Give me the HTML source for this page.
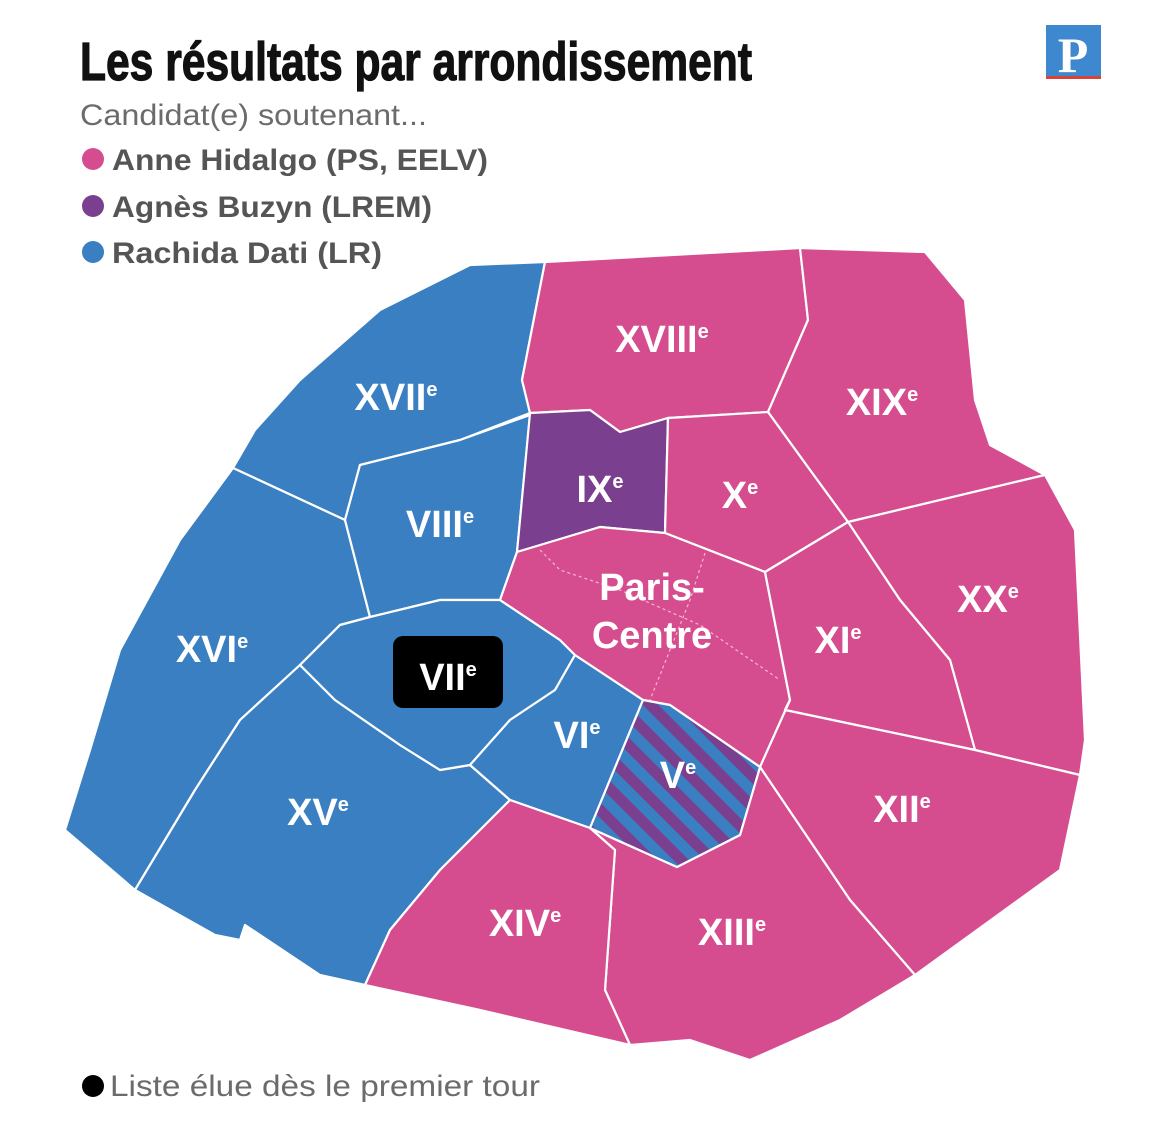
<!DOCTYPE html>
<html><head><meta charset="utf-8"><style>
html,body{margin:0;padding:0;background:#fff;}
svg{display:block;}
</style></head><body>
<svg width="1170" height="1128" viewBox="0 0 1170 1128" xmlns="http://www.w3.org/2000/svg">
<defs>
<pattern id="hatch" patternUnits="userSpaceOnUse" width="22" height="22" patternTransform="rotate(-45)">
<rect width="22" height="22" fill="#3a7fc1"/>
<rect width="11" height="22" fill="#7b3f8f"/>
</pattern>
</defs>
<rect width="1170" height="1128" fill="#fff"/>
<text x="80" y="80" font-family="Liberation Sans Narrow, Liberation Sans, sans-serif" font-weight="bold" font-size="54" fill="#111" stroke="#111" stroke-width="1.2" textLength="672" lengthAdjust="spacingAndGlyphs">Les résultats par arrondissement</text>
<text x="80" y="125" font-family="Liberation Sans, sans-serif" font-size="30" fill="#6b6b6b" textLength="347" lengthAdjust="spacingAndGlyphs">Candidat(e) soutenant...</text>
<circle cx="93" cy="159" r="11" fill="#d54d8e"/>
<text x="112" y="170" font-family="Liberation Sans, sans-serif" font-weight="bold" font-size="30" fill="#555" textLength="376" lengthAdjust="spacingAndGlyphs">Anne Hidalgo (PS, EELV)</text>
<circle cx="93" cy="206" r="11" fill="#7b3f8f"/>
<text x="112" y="217" font-family="Liberation Sans, sans-serif" font-weight="bold" font-size="30" fill="#555" textLength="320" lengthAdjust="spacingAndGlyphs">Agnès Buzyn (LREM)</text>
<circle cx="93" cy="252" r="11" fill="#3a7fc1"/>
<text x="112" y="263" font-family="Liberation Sans, sans-serif" font-weight="bold" font-size="30" fill="#555" textLength="270" lengthAdjust="spacingAndGlyphs">Rachida Dati (LR)</text>
<rect x="1046" y="25" width="55" height="51" fill="#3d88cf"/>
<rect x="1046" y="76" width="55" height="3" fill="#d9443a"/>
<text x="1073" y="72" text-anchor="middle" font-family="Liberation Serif, serif" font-weight="bold" font-size="50" fill="#fff">P</text>

<g stroke="#fff" stroke-width="2.2" stroke-linejoin="round">
<polygon fill="#3a7fc1" points="545,262 522,380 530,413 460,440 360,465 345,520 233,468 255,430 300,380 380,310 470,265"/>
<polygon fill="#3a7fc1" points="233,468 345,520 370,617 340,625 300,665 240,720 195,790 135,890 65,830 90,750 120,650 180,540"/>
<polygon fill="#3a7fc1" points="300,665 335,700 400,745 440,770 470,765 510,800 440,870 390,930 365,985 320,975 245,925 240,940 215,935 135,890 195,790 240,720"/>
<polygon fill="#3a7fc1" points="345,520 360,465 460,440 530,415 517,552 500,600 440,600 370,617"/>
<polygon fill="#3a7fc1" points="300,665 340,625 370,617 440,600 500,600 560,640 575,655 555,690 510,720 470,765 440,770 400,745 335,700"/>
<polygon fill="#3a7fc1" points="575,655 643,700 590,828 510,800 470,765 510,720 555,690"/>
<polygon fill="#d54d8e" points="545,262 800,248 808,320 768,412 668,418 620,432 590,410 530,413 522,380"/>
<polygon fill="#d54d8e" points="800,248 925,252 965,300 975,400 990,445 1045,475 848,522 810,470 768,412 808,320"/>
<polygon fill="#d54d8e" points="1045,475 1075,530 1085,740 1080,775 975,750 950,660 900,600 848,522"/>
<polygon fill="#7b3f8f" points="530,413 590,410 620,432 668,418 665,533 600,527 517,552"/>
<polygon fill="#d54d8e" points="668,418 768,412 810,470 848,522 765,572 665,533"/>
<polygon fill="#d54d8e" points="517,552 600,527 665,533 765,572 790,700 760,767 670,705 643,700 575,655 560,640 500,600"/>
<polygon fill="#d54d8e" points="765,572 848,522 900,600 950,660 975,750 785,710 790,700"/>
<polygon fill="#d54d8e" points="790,700 785,710 975,750 1080,775 1060,870 915,975 850,900 760,767"/>
<polygon fill="#d54d8e" points="677,867 740,835 760,767 850,900 915,975 840,1020 750,1060 690,1040 630,1045 605,990 615,850 590,828"/>
<polygon fill="#d54d8e" points="510,800 590,828 615,850 605,990 630,1045 480,1010 365,985 390,930 440,870"/>
<polygon fill="url(#hatch)" points="643,700 670,705 760,767 740,835 677,867 590,828"/>
</g>
<g stroke="#f3b8d4" stroke-width="1.2" stroke-dasharray="3,3" fill="none">
<polyline points="540,550 560,570 620,590 700,625 780,680"/>
<polyline points="705,553 690,600 670,650 650,700"/>
</g>
<rect x="393" y="636" width="110" height="72" rx="10" fill="#000"/>
<g font-family="Liberation Sans, sans-serif" font-weight="bold" fill="#fff">
<text x="662" y="352" font-size="38" text-anchor="middle">XVIII<tspan font-size="20" dy="-14">e</tspan></text>
<text x="882" y="415" font-size="38" text-anchor="middle">XIX<tspan font-size="20" dy="-14">e</tspan></text>
<text x="396" y="410" font-size="38" text-anchor="middle">XVII<tspan font-size="20" dy="-14">e</tspan></text>
<text x="600" y="502" font-size="38" text-anchor="middle">IX<tspan font-size="20" dy="-14">e</tspan></text>
<text x="740" y="508" font-size="38" text-anchor="middle">X<tspan font-size="20" dy="-14">e</tspan></text>
<text x="440" y="537" font-size="38" text-anchor="middle">VIII<tspan font-size="20" dy="-14">e</tspan></text>
<text x="988" y="612" font-size="38" text-anchor="middle">XX<tspan font-size="20" dy="-14">e</tspan></text>
<text x="652" y="600" font-size="38" text-anchor="middle">Paris-</text>
<text x="652" y="648" font-size="38" text-anchor="middle">Centre</text>
<text x="838" y="653" font-size="38" text-anchor="middle">XI<tspan font-size="20" dy="-14">e</tspan></text>
<text x="212" y="662" font-size="38" text-anchor="middle">XVI<tspan font-size="20" dy="-14">e</tspan></text>
<text x="448" y="690" font-size="38" text-anchor="middle">VII<tspan font-size="20" dy="-14">e</tspan></text>
<text x="577" y="748" font-size="38" text-anchor="middle">VI<tspan font-size="20" dy="-14">e</tspan></text>
<text x="678" y="788" font-size="38" text-anchor="middle">V<tspan font-size="20" dy="-14">e</tspan></text>
<text x="902" y="822" font-size="38" text-anchor="middle">XII<tspan font-size="20" dy="-14">e</tspan></text>
<text x="318" y="825" font-size="38" text-anchor="middle">XV<tspan font-size="20" dy="-14">e</tspan></text>
<text x="525" y="936" font-size="38" text-anchor="middle">XIV<tspan font-size="20" dy="-14">e</tspan></text>
<text x="732" y="945" font-size="38" text-anchor="middle">XIII<tspan font-size="20" dy="-14">e</tspan></text>
</g>
<circle cx="93" cy="1086" r="11" fill="#000"/>
<text x="110" y="1096" font-family="Liberation Sans, sans-serif" font-size="30" fill="#6b6b6b" textLength="430" lengthAdjust="spacingAndGlyphs">Liste élue dès le premier tour</text>
</svg>
</body></html>
